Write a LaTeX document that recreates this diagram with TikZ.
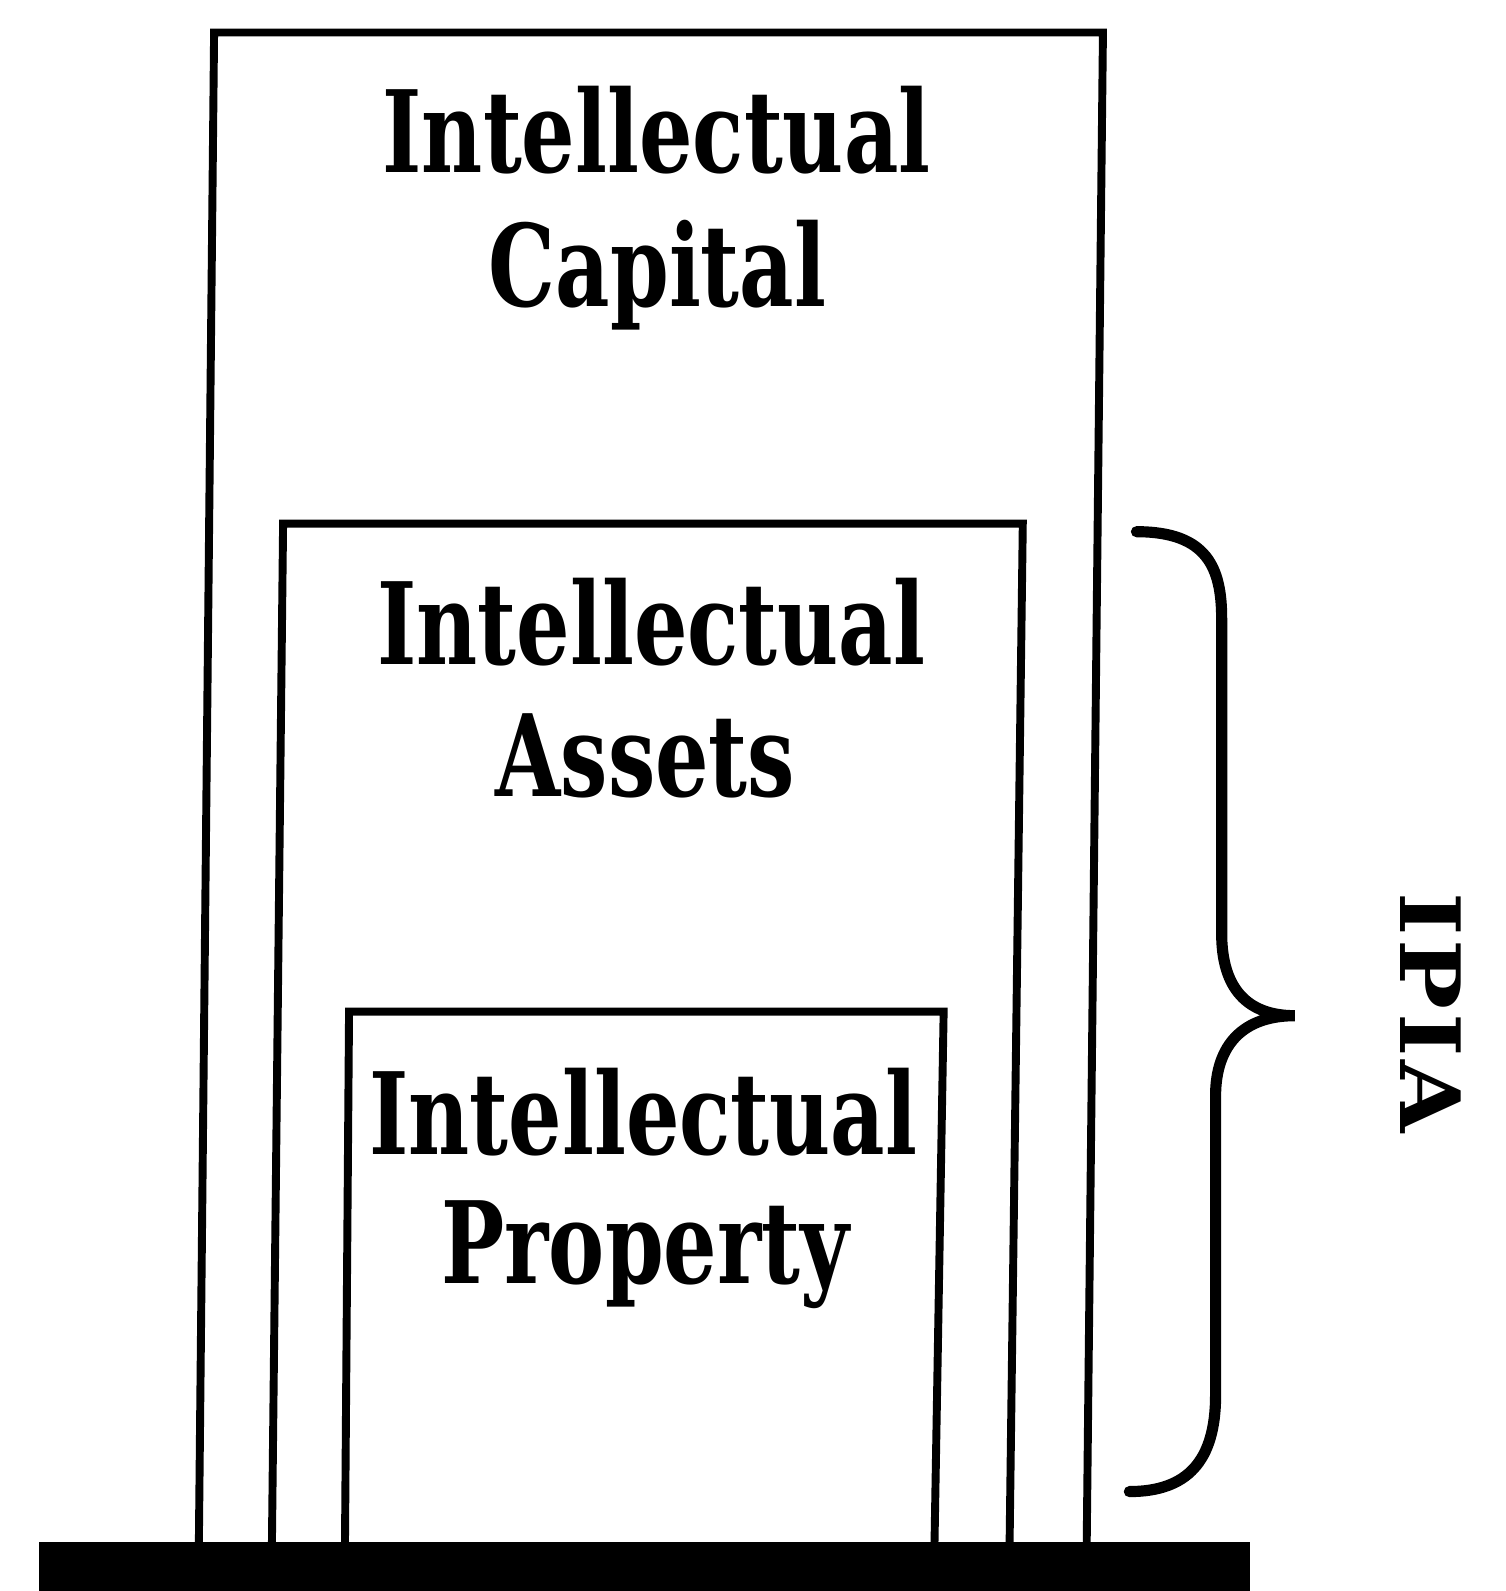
\documentclass[tikz,border=0pt]{standalone}
\usepackage{fontspec}
\newfontfamily\slabfont{DejaVu Serif}[FakeStretch=0.74]
\newfontfamily\slabwide{DejaVu Serif}[FakeStretch=1.12, LetterSpace=4]
\begin{document}
\begin{tikzpicture}[x=0.5pt,y=-0.5pt,
  wall/.style={line width=3.9pt, line join=miter},
  caption/.style={font=\slabfont\bfseries\fontsize{56}{60}\selectfont, inner sep=0pt, anchor=base},
  sidelabel/.style={font=\slabwide\bfseries\fontsize{41}{44}\selectfont, inner sep=0pt, rotate=-90},
  bracestroke/.style={line width=5.5pt, line cap=round}]
\useasboundingbox (0,0) rectangle (1484,1568);
\fill[white] (0,0) rectangle (1484,1568);
% ground slab
\fill (38,1520) rectangle (1232,1568);
% nested walls, open at the bottom
\draw[wall] (196,1520) -- (211,32) -- (1087,32) -- (1071,1520);
\draw[wall] (268,1520) -- (279,516) -- (1008,516) -- (995,1520);
\draw[wall] (340,1520) -- (344,997) -- (930,997) -- (921,1520);
% captions
\node[caption] (capA) at (647,170) {Intellectual};
\node[caption] (capB) at (648,302) {Capital};
\node[caption] (astA) at (642,655) {Intellectual};
\node[caption] (astB) at (636,785) {Assets};
\node[caption] (propA) at (634,1138) {Intellectual};
\node[caption] (propB) at (636,1265) {Property};
% brace and its label
\coordinate (bTop) at (1120,524);
\coordinate (bTip) at (1276,1001);
\coordinate (bBot) at (1113,1470);
\draw[bracestroke] (bTop) .. controls (1190,524) and (1204,560) .. (1204,610)
  -- (1204,920) .. controls (1204,975) and (1230,1001) .. (bTip)
  .. controls (1225,1001) and (1198,1030) .. (1198,1080)
  -- (1198,1375) .. controls (1198,1440) and (1170,1470) .. (bBot);
\node[sidelabel] (ipia) at (1410,998) {IPIA};
\end{tikzpicture}
\end{document}
